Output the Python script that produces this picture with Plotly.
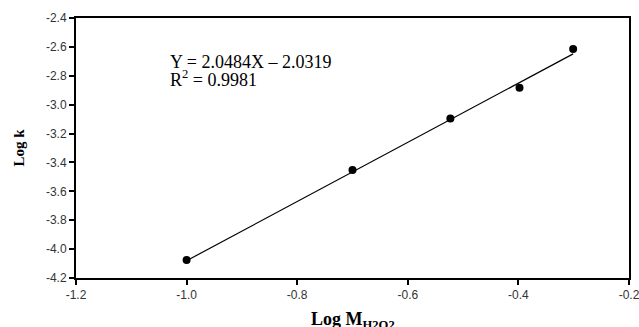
import plotly.graph_objects as go

# Measured data: log of H2O2 molarity vs. log of rate constant
log_m = [-1.0, -0.70, -0.523, -0.398, -0.301]
log_k = [-4.076, -3.453, -3.095, -2.883, -2.615]

# Linear fit reported on the chart
slope = 2.0484
intercept = -2.0319
r_squared = 0.9981
fit_x = [log_m[0], log_m[-1]]
fit_y = [slope * x + intercept for x in fit_x]

x_ticks = [-1.2, -1.0, -0.8, -0.6, -0.4, -0.2]
y_ticks = [-2.4, -2.6, -2.8, -3.0, -3.2, -3.4, -3.6, -3.8, -4.0, -4.2]

fig = go.Figure()
fig.add_trace(go.Scatter(
    x=fit_x, y=fit_y, mode="lines",
    line=dict(color="black", width=1.2), showlegend=False, hoverinfo="skip",
))
fig.add_trace(go.Scatter(
    x=log_m, y=log_k, mode="markers",
    marker=dict(color="black", size=8), showlegend=False,
))

serif = "Liberation Serif"
sans = "Liberation Sans"

fig.add_annotation(
    xref="paper", yref="paper", x=0.166, y=0.83, xanchor="left", yanchor="middle",
    text=f"Y = {slope:.4f}X \u2013 {abs(intercept):.4f}", showarrow=False,
    font=dict(family=serif, size=18, color="black"),
)
fig.add_annotation(
    xref="paper", yref="paper", x=0.166, y=0.766, xanchor="left", yanchor="middle",
    text=f"R<sup>2</sup> = {r_squared:.4f}", showarrow=False,
    font=dict(family=serif, size=18, color="black"),
)
# x-axis title, set low so the subscript runs off the lower edge
fig.add_annotation(
    xref="paper", yref="paper", x=0.5, y=-0.165, xanchor="center", yanchor="middle",
    text="<b>Log M<sub>H2O2</sub></b>", showarrow=False,
    font=dict(family=serif, size=18, color="black"),
)

axis_common = dict(
    showgrid=False, zeroline=False, showline=True, linecolor="black", linewidth=2,
    mirror=True, ticks="outside", ticklen=5, tickwidth=2, tickcolor="black",
    tickfont=dict(family=sans, size=12, color="#333333"), automargin=False,
    ticklabeloverflow="allow",
)

fig.update_layout(
    width=639, height=327,
    margin=dict(l=76, r=10, t=18, b=49),
    paper_bgcolor="white", plot_bgcolor="white",
    xaxis=dict(
        range=[-1.2, -0.2], tickvals=x_ticks, ticktext=[f"{v:.1f}" for v in x_ticks],
        **axis_common,
    ),
    yaxis=dict(
        range=[-4.2, -2.4], tickvals=y_ticks, ticktext=[f"{v:.1f}" for v in y_ticks],
        title=dict(text="<b>Log k</b>", font=dict(family=serif, size=15, color="black"),
                   standoff=18),
        **axis_common,
    ),
)

fig.write_html("out.html")
